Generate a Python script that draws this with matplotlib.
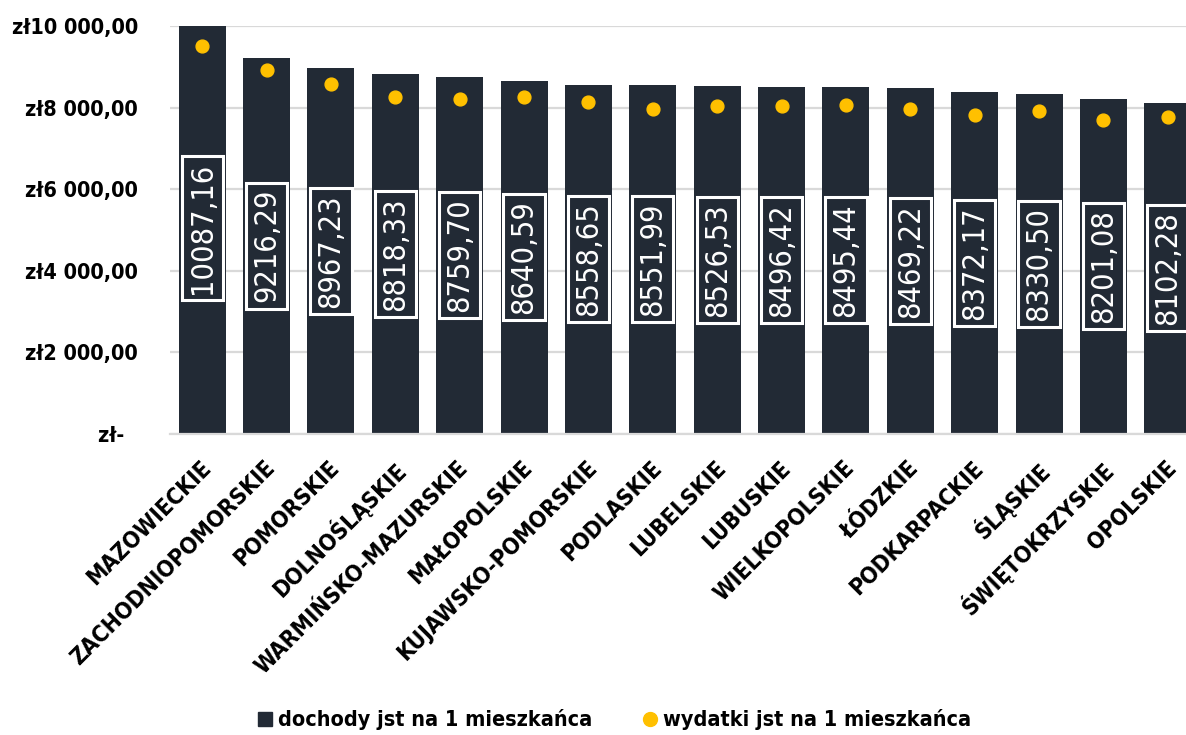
import matplotlib
matplotlib.use("Agg")
import matplotlib.pyplot as plt
import matplotlib.transforms as mtransforms
from matplotlib.lines import Line2D
import numpy as np

# ============================================================
# Dane
# ============================================================
wojewodztwa = [
    "MAZOWIECKIE", "ZACHODNIOPOMORSKIE", "POMORSKIE", "DOLNOŚLĄSKIE",
    "WARMIŃSKO-MAZURSKIE", "MAŁOPOLSKIE", "KUJAWSKO-POMORSKIE", "PODLASKIE",
    "LUBELSKIE", "LUBUSKIE", "WIELKOPOLSKIE", "ŁÓDZKIE", "PODKARPACKIE",
    "ŚLĄSKIE", "ŚWIĘTOKRZYSKIE", "OPOLSKIE",
]
dochody = [10087.16, 9216.29, 8967.23, 8818.33, 8759.70, 8640.59, 8558.65, 8551.99,
           8526.53, 8496.42, 8495.44, 8469.22, 8372.17, 8330.50, 8201.08, 8102.28]
wydatki = [9520, 8930, 8580, 8250, 8220, 8260, 8130, 7965,
           8030, 8030, 8055, 7955, 7825, 7925, 7700, 7770]

y_ticks = [0, 2000, 4000, 6000, 8000, 10000]
y_labels = ["zł-  ", "zł2 000,00", "zł4 000,00", "zł6 000,00", "zł8 000,00", "zł10 000,00"]

# ============================================================
# Styl
# ============================================================
KOLOR_SLUPEK = "#222a35"
KOLOR_PUNKT = "#ffc000"
KOLOR_SIATKA = "#d9d9d9"
FONT = ["DejaVu Sans"]

plt.rcParams["font.family"] = FONT
plt.rcParams["font.stretch"] = "condensed"   # wąski krój, bliżej Calibri

fig = plt.figure(figsize=(11.86, 7.35), dpi=100)
# os sięga poza prawą krawędź obrazka (ostatni słupek przycięty)
ax = fig.add_axes([170 / 1186, 301.5 / 735, 1030 / 1186, 407.5 / 735])

x = np.arange(len(wojewodztwa))
ax.bar(x, dochody, width=0.73, color=KOLOR_SLUPEK, zorder=2, clip_on=True)
ax.scatter(x, wydatki, s=85, color=KOLOR_PUNKT, zorder=3)

# etykiety wartości w środku słupków
for xi, val in zip(x, dochody):
    ax.text(xi, val / 2, f"{val:.2f}".replace(".", ","), rotation=90,
            ha="center", va="center", color="white", fontsize=22,
            fontstretch="condensed", zorder=4,
            bbox=dict(boxstyle="square,pad=0.2", facecolor=KOLOR_SLUPEK,
                      edgecolor="white", linewidth=2.2))

ax.set_xlim(-0.5, len(wojewodztwa) - 0.5)
ax.set_ylim(0, 10000)
ax.set_yticks(y_ticks)
ax.set_yticklabels(y_labels, fontsize=15.5, fontweight="bold")
ax.yaxis.grid(True, color=KOLOR_SIATKA, linewidth=1.6, zorder=0)
ax.set_axisbelow(True)

for s in ["top", "right", "left"]:
    ax.spines[s].set_visible(False)
ax.spines["bottom"].set_color(KOLOR_SIATKA)
ax.spines["bottom"].set_linewidth(1.6)
ax.tick_params(axis="both", length=0)
ax.tick_params(axis="y", pad=23)

ax.set_xticks(x)
ax.set_xticklabels(wojewodztwa, rotation=45, ha="right", va="top",
                   rotation_mode="anchor", fontsize=16.5, fontweight="bold")
ax.tick_params(axis="x", pad=0)
przes = mtransforms.ScaledTranslation(-3 / 100, -23 / 100, fig.dpi_scale_trans)
for lab in ax.get_xticklabels():
    lab.set_transform(lab.get_transform() + przes)

# legenda
uchwyty = [
    Line2D([], [], linestyle="none", marker="s", markersize=10, color=KOLOR_SLUPEK),
    Line2D([], [], linestyle="none", marker="o", markersize=10, color=KOLOR_PUNKT),
]
fig.legend(uchwyty, ["dochody jst na 1 mieszkańca", "wydatki jst na 1 mieszkańca"],
           loc="center", bbox_to_anchor=(615 / 1186, 1 - 720 / 735), ncol=2,
           frameon=False, prop=dict(size=15.5, weight="bold", family=FONT, stretch="condensed"),
           handlelength=0.6, handletextpad=0.3, columnspacing=2.4)

fig.savefig("out.png", dpi=100)
